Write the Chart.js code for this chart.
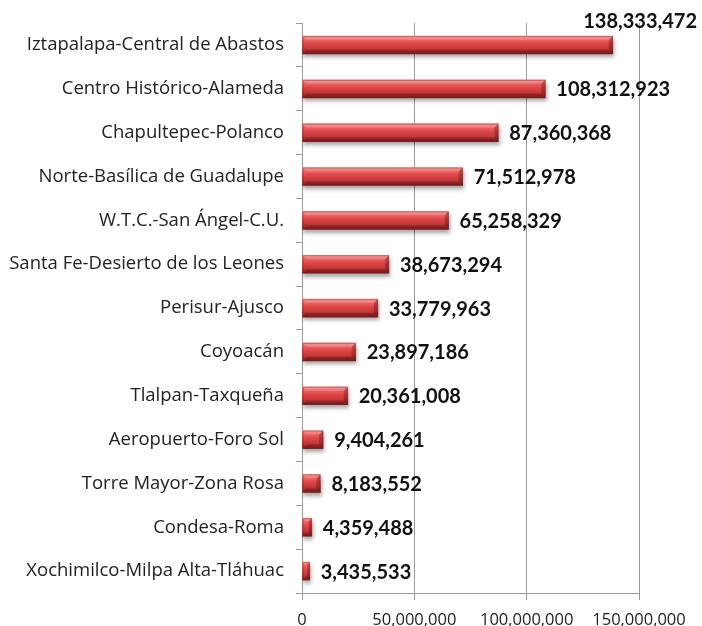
<!DOCTYPE html>
<html>
<head>
<meta charset="utf-8">
<script src="https://cdn.jsdelivr.net/npm/chart.js@4.4.1/dist/chart.umd.min.js"></script>
<style>
  html, body { margin: 0; padding: 0; background: #fff; }
  #wrap { width: 702px; height: 626px; }
</style>
</head>
<body>
<div id="wrap"><canvas id="chart" width="702" height="626"></canvas></div>
<script>
// zones and visitor totals, top to bottom
const zones = [
  'Iztapalapa-Central de Abastos',
  'Centro Histórico-Alameda',
  'Chapultepec-Polanco',
  'Norte-Basílica de Guadalupe',
  'W.T.C.-San Ángel-C.U.',
  'Santa Fe-Desierto de los Leones',
  'Perisur-Ajusco',
  'Coyoacán',
  'Tlalpan-Taxqueña',
  'Aeropuerto-Foro Sol',
  'Torre Mayor-Zona Rosa',
  'Condesa-Roma',
  'Xochimilco-Milpa Alta-Tláhuac'
];
const visitors = [
  138333472, 108312923, 87360368, 71512978, 65258329, 38673294,
  33779963, 23897186, 20361008, 9404261, 8183552, 4359488, 3435533
];
const axisMax = 150000000;
const axisStep = 50000000;

const fmt = v => Number(v).toLocaleString('en-US');
const FONT = '"Open Sans", Lato, sans-serif';
const BOLD_FONT = 'Lato, "Open Sans", sans-serif';

// gradient fill + bevel edges for each bar, with a soft drop shadow
const bevelBars = {
  id: 'bevelBars',
  beforeDatasetsDraw(chart) {
    const ctx = chart.ctx;
    chart.getDatasetMeta(0).data.forEach(bar => {
      const top = bar.y - bar.height / 2;
      const g = ctx.createLinearGradient(0, top, 0, top + bar.height);
      g.addColorStop(0, '#f28a8a');
      g.addColorStop(0.2, '#ee6262');
      g.addColorStop(0.45, '#dc4545');
      g.addColorStop(0.7, '#c43838');
      g.addColorStop(0.85, '#a02b2b');
      g.addColorStop(1, '#8a2424');
      // options are shared between bars, so give each one its own copy
      bar.options = Object.assign({}, bar.options, { backgroundColor: g });
    });
    ctx.save();
    ctx.shadowColor = 'rgba(0,0,0,0.35)';
    ctx.shadowBlur = 4;
    ctx.shadowOffsetX = 1;
    ctx.shadowOffsetY = 3;
  },
  afterDatasetsDraw(chart) {
    const ctx = chart.ctx;
    ctx.restore();
    ctx.save();
    chart.getDatasetMeta(0).data.forEach(bar => {
      const t = bar.y - bar.height / 2, b = bar.y + bar.height / 2;
      const l = bar.base, r = bar.x;
      const e = Math.min(4, (r - l) / 3);
      // top edge highlight
      ctx.fillStyle = 'rgba(255,255,255,0.15)';
      ctx.beginPath();
      ctx.moveTo(l, t); ctx.lineTo(r, t); ctx.lineTo(r - e, t + e); ctx.lineTo(l + e, t + e);
      ctx.closePath(); ctx.fill();
      // bottom edge shade
      ctx.fillStyle = 'rgba(60,0,0,0.2)';
      ctx.beginPath();
      ctx.moveTo(l, b); ctx.lineTo(r, b); ctx.lineTo(r - e, b - e); ctx.lineTo(l + e, b - e);
      ctx.closePath(); ctx.fill();
      // right end cap
      ctx.fillStyle = 'rgba(70,0,0,0.28)';
      ctx.beginPath();
      ctx.moveTo(r, t); ctx.lineTo(r, b); ctx.lineTo(r - e, b - e); ctx.lineTo(r - e, t + e);
      ctx.closePath(); ctx.fill();
      ctx.strokeStyle = 'rgba(120,25,25,0.4)';
      ctx.lineWidth = 1;
      ctx.strokeRect(l + 0.5, t + 0.5, r - l - 1, b - t - 1);
    });
    ctx.restore();
  }
};

// value labels to the right of each bar
const valueLabels = {
  id: 'valueLabels',
  afterDraw(chart) {
    const ctx = chart.ctx;
    const ds = chart.data.datasets[0];
    ctx.save();
    ctx.font = 'bold 20px ' + BOLD_FONT;
    ctx.fillStyle = '#111';
    ctx.textBaseline = 'middle';
    chart.getDatasetMeta(0).data.forEach((bar, i) => {
      const txt = fmt(ds.data[i]);
      const w = ctx.measureText(txt).width;
      let x = bar.x + 11, y = bar.y + 1;
      if (x + w > chart.width - 3) {
        x = chart.width - 5 - w;
        y = bar.y - 23;
      }
      ctx.textAlign = 'left';
      ctx.fillText(txt, x, y);
    });
    ctx.restore();
  }
};

new Chart(document.getElementById('chart'), {
  type: 'bar',
  data: {
    labels: zones,
    datasets: [{
      data: visitors,
      backgroundColor: '#d04040',
      borderWidth: 0,
      barThickness: 18
    }]
  },
  options: {
    indexAxis: 'y',
    responsive: false,
    animation: false,
    layout: { padding: { top: 18, right: 63, left: 0, bottom: 0 } },
    plugins: {
      legend: { display: false },
      tooltip: { enabled: false }
    },
    scales: {
      x: {
        min: 0,
        max: axisMax,
        ticks: {
          stepSize: axisStep,
          color: '#222',
          font: { family: FONT, size: 16.5 },
          padding: 10,
          maxRotation: 0,
          callback: v => fmt(v)
        },
        grid: { color: '#9a9a9a', lineWidth: 1, tickLength: 7, drawTicks: true },
        border: { color: '#9a9a9a', width: 1 },
        afterFit(scale) { scale.height = 33; }
      },
      y: {
        ticks: {
          color: '#222',
          font: { family: FONT, size: 18.5 },
          padding: 12,
          autoSkip: false
        },
        grid: { drawOnChartArea: false, color: '#9a9a9a', tickLength: 6 },
        border: { color: '#9a9a9a', width: 1 },
        afterFit(scale) { scale.width = 302; }
      }
    }
  },
  plugins: [bevelBars, valueLabels]
});
</script>
</body>
</html>
